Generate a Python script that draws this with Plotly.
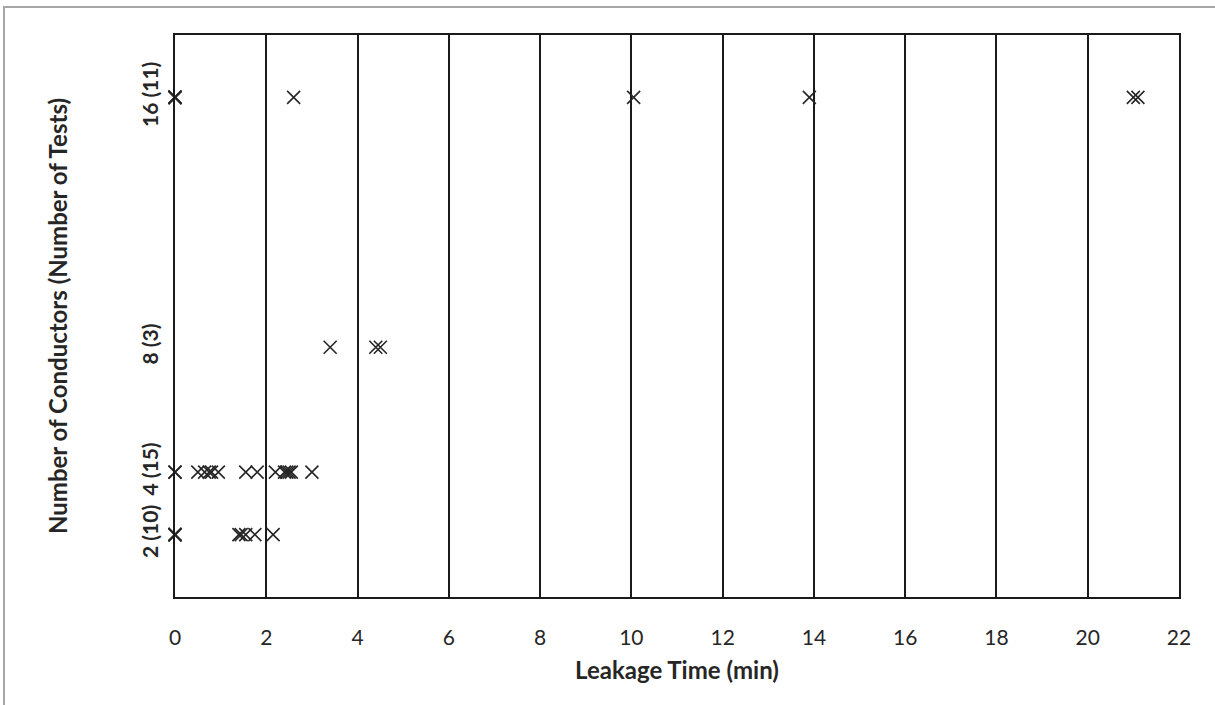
import plotly.graph_objects as go

# Leakage times (min) for each conductor count
conductors = [2, 4, 8, 16]
tick_labels = ['2 (10)', '4 (15)', '8 (3)', '16 (11)']

leak_2 = [0, 0, 0, 0, 0, 1.4, 1.45, 1.55, 1.75, 2.15]
leak_4 = [0, 0, 0.5, 0.65, 0.75, 0.8, 0.95, 1.55, 1.8, 2.2, 2.4, 2.45, 2.5, 2.55, 3.0]
leak_8 = [3.4, 4.4, 4.5]
leak_16 = [0, 0, 0, 0, 0, 0, 2.6, 10.05, 13.9, 21.0, 21.1]

series = [leak_2, leak_4, leak_8, leak_16]

fig = go.Figure()
for n, times in zip(conductors, series):
    fig.add_trace(go.Scatter(
        x=times,
        y=[n] * len(times),
        mode='markers',
        marker=dict(symbol='x-thin', size=13, color='#262626',
                    line=dict(width=1.6, color='#262626')),
        showlegend=False,
        cliponaxis=False,
    ))

fig.update_layout(
    width=1215,
    height=705,
    plot_bgcolor='white',
    paper_bgcolor='white',
    margin=dict(l=175, r=36, t=35, b=108),
    font=dict(family='Lato, Open Sans, sans-serif', size=20, color='#262626'),
)

fig.update_xaxes(
    range=[0, 22],
    tick0=0,
    dtick=2,
    showgrid=True,
    gridcolor='#1a1a1a',
    gridwidth=2,
    zeroline=False,
    showline=True,
    linecolor='#1a1a1a',
    linewidth=2,
    mirror=True,
    ticks='',
    ticklabelstandoff=21,
    tickfont=dict(size=21),
    title=dict(text='Leakage Time (min)', font=dict(size=24, weight='bold'), standoff=14),
)

fig.update_yaxes(
    range=[0, 18],
    tickvals=conductors,
    ticktext=tick_labels,
    tickangle=-90,
    showgrid=False,
    zeroline=False,
    showline=True,
    linecolor='#1a1a1a',
    linewidth=2,
    mirror=True,
    ticks='',
    ticklabelstandoff=7,
    tickfont=dict(size=21, weight='bold'),
    title=dict(text='Number of Conductors (Number of Tests)', font=dict(size=24, weight='bold'), standoff=62),
)

# light grey frame around the chart area
fig.add_shape(type='rect', xref='paper', yref='paper',
              x0=(4 - 175) / 1004, x1=(1230 - 175) / 1004,
              y0=(597.5 - 720) / 562.5, y1=(597.5 - 7) / 562.5,
              line=dict(color='#a6a6a6', width=2), fillcolor='rgba(0,0,0,0)',
              layer='below')

fig.write_html('out.html', config={'displayModeBar': False},
               post_script="document.body.style.margin='0';")
